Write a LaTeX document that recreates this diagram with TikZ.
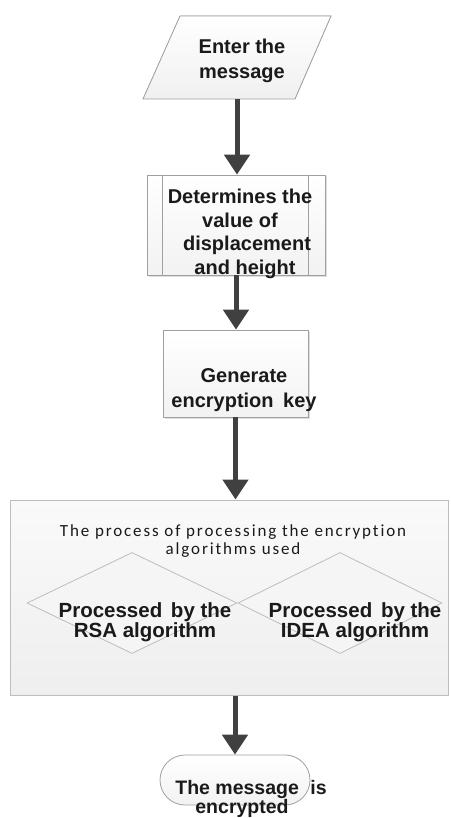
\documentclass[tikz,border=0pt]{standalone}
\usepackage{fontspec}
\setmainfont{Liberation Sans}
\newfontfamily\titlefont[LetterSpace=11,Ligatures={NoCommon}]{Carlito}
\usetikzlibrary{arrows.meta,shapes.geometric,shadows}
\definecolor{arrowgray}{HTML}{404040}
\definecolor{edgegray}{HTML}{A0A0A0}
\definecolor{lightedge}{HTML}{BDBDBD}
\definecolor{txt}{HTML}{1A1A1A}
\begin{document}
\begin{tikzpicture}[x=1pt,y=-1pt,
  flow/.style={-{Triangle[width=25pt,length=20pt]}, line width=5pt, draw=arrowgray},
  btext/.style={font=\fontsize{20}{24}\selectfont\bfseries, text=txt, align=center, inner sep=0pt},
  boxshape/.style={draw=edgegray, line width=0.8pt, top color=white, bottom color=gray!10, inner sep=0pt},
  shad/.style={drop shadow={shadow xshift=1.5pt, shadow yshift=-1.5pt, opacity=0.25, fill=gray}},
  dia/.style={diamond, draw=lightedge, line width=0.8pt, fill=white!96!black, inner sep=0pt}]
\useasboundingbox (0,0) rectangle (450,818);

% input parallelogram
\filldraw[draw=edgegray, line width=0.8pt, top color=white, bottom color=gray!12]
  (180,16) -- (331,16) -- (295,99) -- (143,99) -- cycle;
\node[inner sep=0pt, minimum width=110pt, minimum height=83pt] (enter) at (237,57.5) {};
\node[btext, font=\fontsize{20}{24.5}\selectfont\bfseries] (entertxt) at (242,61) {Enter the\\message};

% predefined process
\node[boxshape, shad, minimum width=178pt, minimum height=100pt] (det) at (236,225) {};
\draw[edgegray, line width=0.8pt] ([xshift=16pt]det.north west) -- ([xshift=16pt]det.south west);
\draw[edgegray, line width=0.8pt] ([xshift=-17pt]det.north east) -- ([xshift=-17pt]det.south east);
\node[btext, font=\fontsize{20}{23.5}\selectfont\bfseries] (dettxt) at (240,234)
  {Determines the\\value of\\\hspace*{14pt}displacement\\\hspace*{10pt}and height};

% process box
\node[boxshape, shad, minimum width=145pt, minimum height=87pt] (gen) at (235.5,373.5) {};
\node[btext, font=\fontsize{20}{25}\selectfont\bfseries] (gentxt) at (244,390)
  {Generate\\encryption\hspace{4pt} key};

% container
\node[draw=lightedge, line width=1pt, top color=white!98!black, bottom color=gray!13,
      minimum width=438pt, minimum height=195pt, inner sep=0pt] (proc) at (229,597.5) {};
\node[font=\titlefont\fontsize{17}{18.5}\selectfont, text=txt, align=center, inner sep=0pt]
  (proctxt) at (233,541) {The process of processing the encryption\\algorithms used};

\node[dia, minimum width=210pt, minimum height=101pt] (rsa) at (132,603) {};
\node[dia, minimum width=204pt, minimum height=101pt] (idea) at (340,603) {};
\node[btext, font=\fontsize{20.5}{19.5}\selectfont\bfseries] (rsatxt) at (145,622)
  {Processed\hspace{3pt} by the\\RSA algorithm};
\node[btext, font=\fontsize{20.5}{19.5}\selectfont\bfseries] (ideatxt) at (355,622)
  {Processed\hspace{3pt} by the\\IDEA algorithm};

% terminal
\node[draw=edgegray, line width=0.8pt, top color=white, bottom color=gray!10, rounded corners=25pt,
      minimum width=150pt, minimum height=50pt, inner sep=0pt] (term) at (235,780) {};
\node[btext, font=\fontsize{19.5}{18.5}\selectfont\bfseries] (termtxt) at (251,799)
  {The message\hspace{6pt} is\\\hspace*{-18pt}encrypted};

% connectors
\draw[flow] (enter.south) -- (enter.south |- det.north);
\draw[flow] (det.south) -- (det.south |- gen.north);
\draw[flow] (gen.south) -- (gen.south |- proc.north);
\draw[flow] (term.north |- proc.south) -- (term.north);
\end{tikzpicture}
\end{document}
